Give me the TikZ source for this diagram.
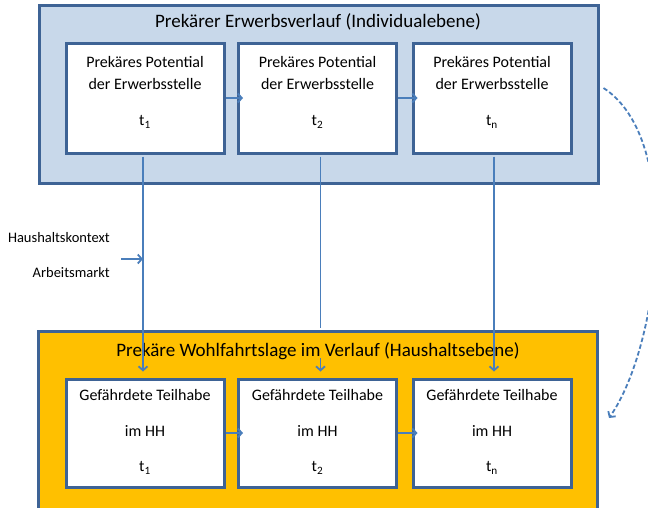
\documentclass[tikz,border=0pt]{standalone}
\usepackage{fontspec}
\setmainfont{Carlito}
\usetikzlibrary{arrows.meta}
\definecolor{rahmen}{HTML}{3E6395}
\definecolor{hellblau}{HTML}{C8D8EA}
\definecolor{gold}{HTML}{FFC000}
\definecolor{linie}{HTML}{4A7EBB}

\begin{document}
\begin{tikzpicture}[x=1pt,y=-1pt,
  aussen/.style={rectangle,draw=rahmen,line width=3pt,minimum width=559pt},
  innen/.style={rectangle,draw=rahmen,fill=white,line width=3pt,minimum width=158pt},
  pfeil/.style={draw=linie,line width=1.8pt,-{Straight Barb[length=4pt,width=9pt]}},
  txt/.style={inner sep=0pt,font=\fontsize{16pt}{19pt}\selectfont},
  titel/.style={inner sep=0pt,font=\fontsize{19pt}{22pt}\selectfont}]
\def\yTop{98}
\def\yBot{433}
\useasboundingbox (0,0) rectangle (648,507);

% Individualebene
\node[aussen,fill=hellblau,minimum height=178pt] (ind) at (318.5,94) {};
\node[titel] (indtitel) at (318,22) {Prekärer Erwerbsverlauf (Individualebene)};
\foreach \x/\idx/\n in {145/1/1,317.5/2/2,492/n/3}{
  \node[innen,minimum height=110pt] (p\n) at (\x,\yTop) {};
  \node[txt] at (\x,62) {Prekäres Potential};
  \node[txt] at (\x,84) {der Erwerbsstelle};
  \node[txt] at (\x,122) {t\textsubscript{\idx}};
}

% Haushaltsebene
\node[aussen,fill=gold,minimum height=194pt] (hh) at (318,428) {};
\node[titel] (hhtitel) at (318,351) {Prekäre Wohlfahrtslage im Verlauf (Haushaltsebene)};
\foreach \x/\idx/\n in {145/1/1,317.5/2/2,492/n/3}{
  \node[innen,minimum height=108pt] (h\n) at (\x,\yBot) {};
  \node[txt] at (\x,395) {Gefährdete Teilhabe};
  \node[txt] at (\x,431) {im HH};
  \node[txt] at (\x,468) {t\textsubscript{\idx}};
}

% Verlauf
\draw[pfeil,shorten >=-6pt] (p1.east) -- (p2.west);
\draw[pfeil,shorten >=-6pt] (p2.east) -- (p3.west);
\draw[pfeil,shorten >=-6pt] (h1.east) -- (h2.west);
\draw[pfeil,shorten >=-6pt] (h2.east) -- (h3.west);

% Individualebene -> Haushaltsebene
\coordinate (luecke1) at (0,328);
\coordinate (luecke2) at (0,358);
\draw[pfeil,shorten <=2pt,shorten >=6pt] ([xshift=-2pt]p1.south) -- ([xshift=-2pt]h1.north);
\draw[draw=linie,line width=1.8pt,shorten <=2pt] ([xshift=3pt]p2.south) -- ([xshift=3pt]p2.south |- luecke1);
\draw[pfeil,shorten >=6pt] ([xshift=3pt]p2.south |- luecke2) -- ([xshift=3pt]h2.north);
\draw[pfeil,shorten <=2pt,shorten >=6pt] ([xshift=2pt]p3.south) -- ([xshift=2pt]h3.north);

% Kontext
\node[txt,font=\fontsize{14.5pt}{17pt}\selectfont,anchor=east] (kontext) at (110,238) {Haushaltskontext};
\node[txt,font=\fontsize{14.5pt}{17pt}\selectfont,anchor=east] (markt) at (110,273) {Arbeitsmarkt};
\coordinate (einfluss) at (121,259);
\draw[pfeil] (einfluss) -- ([xshift=-2pt]einfluss -| p1.south);

\draw[pfeil,dash pattern=on 4.5pt off 2.5pt] ([xshift=4pt,yshift=6pt]ind.east) .. controls (684,140) and (660,345) .. ([xshift=10pt,yshift=10pt]hh.east);
\end{tikzpicture}
\end{document}
